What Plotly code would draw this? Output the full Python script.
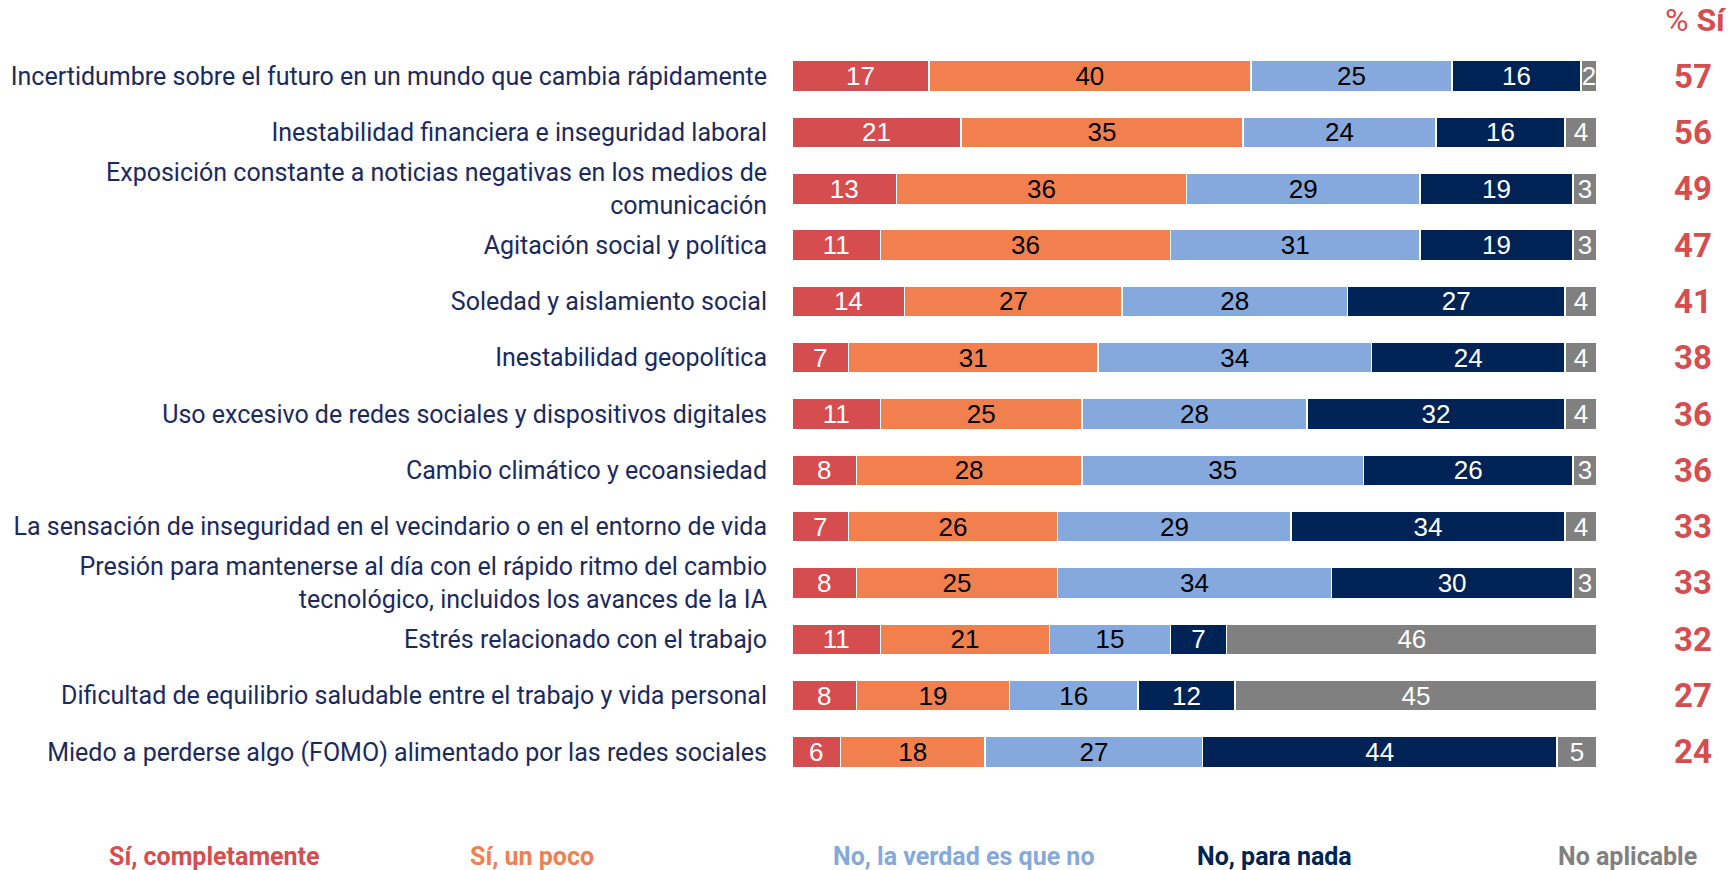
import plotly.graph_objects as go

categories = [
    "Incertidumbre sobre el futuro en un mundo que cambia rápidamente",
    "Inestabilidad financiera e inseguridad laboral",
    "Exposición constante a noticias negativas en los medios de<br>comunicación",
    "Agitación social y política",
    "Soledad y aislamiento social",
    "Inestabilidad geopolítica",
    "Uso excesivo de redes sociales y dispositivos digitales",
    "Cambio climático y ecoansiedad",
    "La sensación de inseguridad en el vecindario o en el entorno de vida",
    "Presión para mantenerse al día con el rápido ritmo del cambio<br>tecnológico, incluidos los avances de la IA",
    "Estrés relacionado con el trabajo",
    "Dificultad de equilibrio saludable entre el trabajo y vida personal",
    "Miedo a perderse algo (FOMO) alimentado por las redes sociales",
]

si_completamente = [17, 21, 13, 11, 14, 7, 11, 8, 7, 8, 11, 8, 6]
si_un_poco = [40, 35, 36, 36, 27, 31, 25, 28, 26, 25, 21, 19, 18]
no_la_verdad = [25, 24, 29, 31, 28, 34, 28, 35, 29, 34, 15, 16, 27]
no_para_nada = [16, 16, 19, 19, 27, 24, 32, 26, 34, 30, 7, 12, 44]
no_aplicable = [2, 4, 3, 3, 4, 4, 4, 3, 4, 3, 46, 45, 5]
pct_si = [57, 56, 49, 47, 41, 38, 36, 36, 33, 33, 32, 27, 24]

series_names = ["Sí, completamente", "Sí, un poco", "No, la verdad es que no", "No, para nada", "No aplicable"]
series_values = [si_completamente, si_un_poco, no_la_verdad, no_para_nada, no_aplicable]
colors = ["#D64D4F", "#F2804F", "#85A9DC", "#002355", "#808080"]
text_colors = ["white", "black", "black", "white", "white"]
legend_x = [-0.7168, -0.323, 0.2137, 0.5988, 1.0373]

fig = go.Figure()
for name, vals, col, tcol in zip(series_names, series_values, colors, text_colors):
    fig.add_trace(go.Bar(
        y=categories, x=vals, orientation="h", name=name,
        marker=dict(color=col, line=dict(color="white", width=1.5)),
        text=[str(v) for v in vals], textposition="inside", textangle=0,
        insidetextanchor="middle", constraintext="none",
        textfont=dict(family="Liberation Sans, Arial", size=26, color=tcol),
        width=0.55, showlegend=False, hoverinfo="skip",
    ))

annotations = []
for cat, v in zip(categories, pct_si):
    annotations.append(dict(
        x=1.1453, xref="paper", y=cat, yref="y", text=f"<b>{v}</b>",
        showarrow=False, xanchor="right", yanchor="middle",
        font=dict(family="Roboto", size=33, color="#D64D4F"),
    ))
annotations.append(dict(
    x=1.164, xref="paper", y=1.038, yref="paper", text="% <b>Sí</b>",
    showarrow=False, xanchor="right", yanchor="middle",
    font=dict(family="Roboto", size=32, color="#D64D4F"),
))
for name, col, lx in zip(series_names, colors, legend_x):
    annotations.append(dict(
        x=lx, xref="paper", y=-0.104, yref="paper", text=f"<b>{name}</b>",
        showarrow=False, xanchor="center", yanchor="middle",
        font=dict(family="Roboto", size=25, color=col),
    ))

fig.update_layout(
    barmode="stack", bargap=0.45,
    width=1732, height=870,
    margin=dict(l=792, r=135, t=48, b=90, autoexpand=False),
    paper_bgcolor="white", plot_bgcolor="white",
    xaxis=dict(range=[0, 100], visible=False, fixedrange=True, automargin=False),
    yaxis=dict(autorange="reversed", showgrid=False, showline=False, zeroline=False,
               automargin=False, fixedrange=True,
               ticks="outside", ticklen=19, tickcolor="rgba(0,0,0,0)",
               tickfont=dict(family="Roboto", size=25, color="#1B2A5E")),
    annotations=annotations,
    uniformtext=dict(mode=False),
)

fig.write_html("out.html", config={"displayModeBar": False},
               post_script="document.body.style.margin='0';document.body.style.overflow='hidden';")
